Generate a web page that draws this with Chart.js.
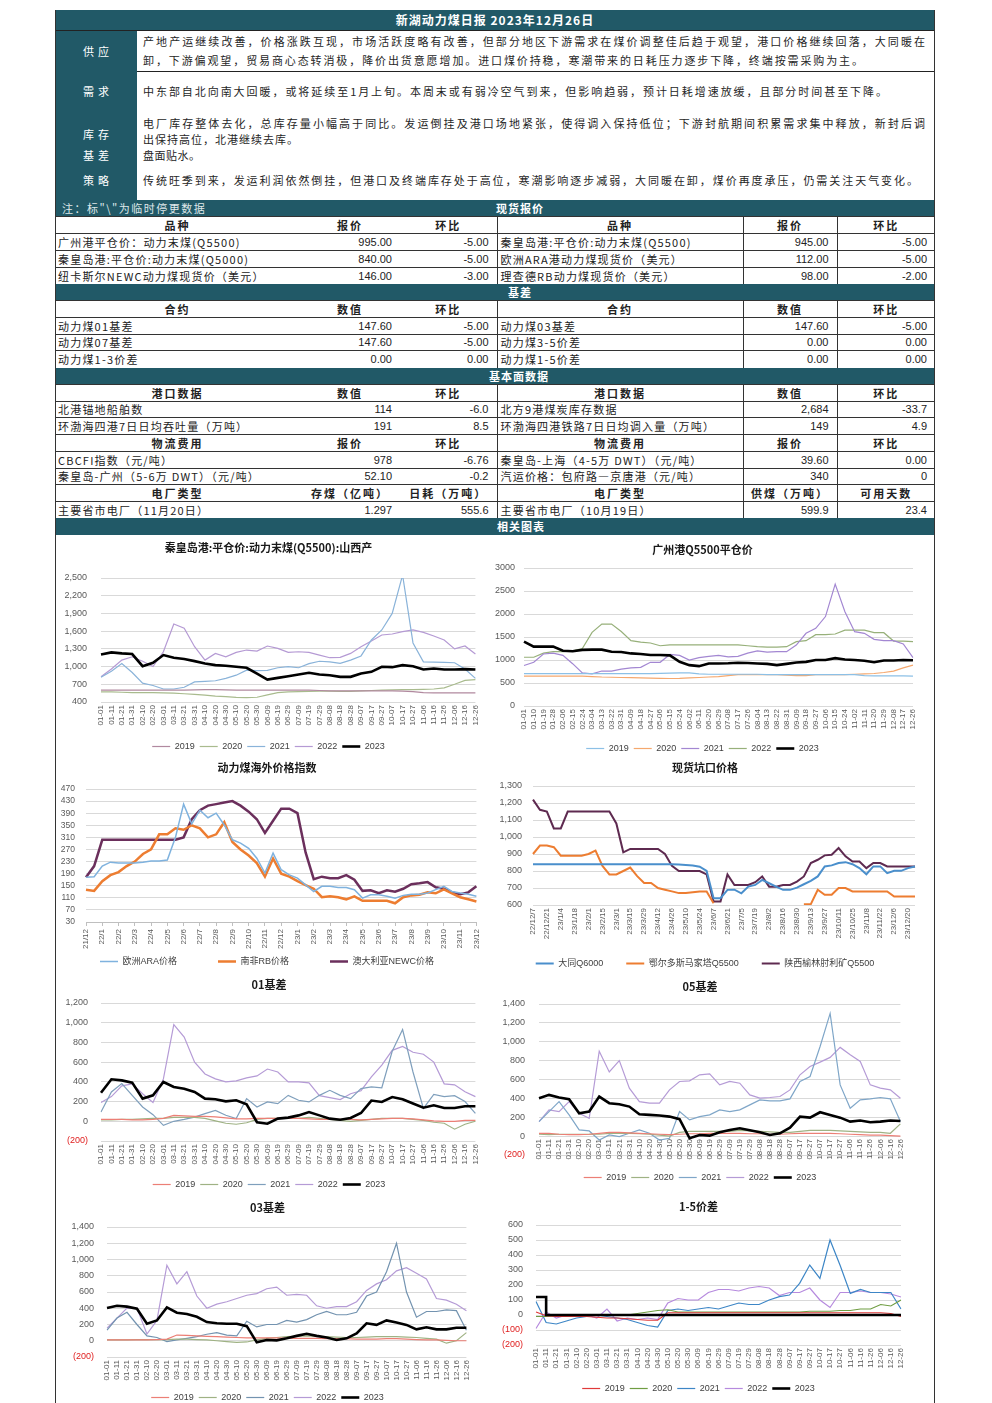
<!DOCTYPE html>
<html lang="zh-CN">
<head>
<meta charset="utf-8">
<title>新湖动力煤日报 2023年12月26日</title>
<script src="https://cdn.jsdelivr.net/npm/chart.js@4.4.1/dist/chart.umd.min.js"></script>
<style>
html,body{margin:0;padding:0;background:#fff;overflow:hidden;}
body{position:relative;width:992px;height:1403px;font-family:"Noto Sans CJK SC","Liberation Sans",sans-serif;color:#262626;}
.a{position:absolute;}
.teal{background:#215967;color:#fff;}
#ttl{left:55px;top:10px;width:880px;height:20px;line-height:20px;text-align:center;font-weight:bold;font-size:12px;letter-spacing:1px;}
.hl{height:1px;background:#222;}
.vline{width:1px;background:#333;top:10px;height:1393px;}
#lab{left:55px;top:31px;width:82px;height:169px;}
.lb{left:55px;width:82px;text-align:center;font-size:11px;letter-spacing:4px;padding-left:4px;box-sizing:border-box;color:#fff;line-height:14px;margin-top:-7px;}
.tx{left:143px;font-size:11px;line-height:14px;margin-top:-7px;white-space:nowrap;color:#262626;}
.tj{text-align:justify;text-align-last:justify;text-justify:inter-character;}
#tbl{position:absolute;left:55px;top:200px;width:880px;border-collapse:collapse;table-layout:fixed;font-size:11px;color:#222;}
#tbl td{height:16.75px;padding:0 3px;box-sizing:border-box;border-top:1px solid #333;white-space:nowrap;overflow:hidden;line-height:14px;}
#tbl tr.bar td{background:#215967;color:#fff;font-weight:bold;border-top:0;position:relative;}
#tbl tr.hd td{font-weight:bold;text-align:center;letter-spacing:2px;}
#tbl td.n{text-align:right;padding-right:8px;font-family:"Liberation Sans","Noto Sans CJK SC",sans-serif;}
#tbl td.nm{letter-spacing:1.2px;}
#tbl td.v{border-left:1px solid #333;}
.bn,.bt{position:absolute;top:0;line-height:16px;white-space:nowrap;}
.bn{font-weight:normal;color:#dfe8ea;letter-spacing:1.5px;}
.bt{letter-spacing:1px;}
</style>
</head>
<body>
<div class="a teal" id="ttl">新湖动力煤日报 2023年12月26日</div>
<div class="a hl" style="left:55px;top:30px;width:880px;"></div>
<div class="a teal" id="lab"></div>
<div class="a lb" style="top:51px">供应</div>
<div class="a lb" style="top:91px">需求</div>
<div class="a lb" style="top:134px">库存</div>
<div class="a lb" style="top:155px">基差</div>
<div class="a lb" style="top:180px">策略</div>
<div class="a hl" style="left:137px;top:71px;width:798px;"></div>

<div class="a tx tj" style="top:41px;width:782px;">产地产运继续改善，价格涨跌互现，市场活跃度略有改善，但部分地区下游需求在煤价调整佳后趋于观望，港口价格继续回落，大同暖在</div>
<div class="a tx tj" style="top:60px;width:720px;">卸，下游偏观望，贸易商心态转消极，降价出货意愿增加。进口煤价持稳，寒潮带来的日耗压力逐步下降，终端按需采购为主。</div>
<div class="a tx tj" style="top:91px;width:744px;">中东部自北向南大回暖，或将延续至1月上旬。本周末或有弱冷空气到来，但影响趋弱，预计日耗增速放缓，且部分时间甚至下降。</div>
<div class="a tx tj" style="top:123px;width:782px;">电厂库存整体去化，总库存量小幅高于同比。发运倒挂及港口场地紧张，使得调入保持低位；下游封航期间积累需求集中释放，新封后调</div>
<div class="a tx" style="top:139px;letter-spacing:1px;">出保持高位，北港继续去库。</div>
<div class="a tx" style="top:155px;letter-spacing:0.5px;">盘面贴水。</div>
<div class="a tx tj" style="top:180px;width:775px;">传统旺季到来，发运利润依然倒挂，但港口及终端库存处于高位，寒潮影响逐步减弱，大同暖在卸，煤价再度承压，仍需关注天气变化。</div>

<table id="tbl">
<colgroup><col style="width:245px"><col style="width:100px"><col style="width:97px"><col style="width:246px"><col style="width:94px"><col style="width:98px"></colgroup>
<tr class="bar"><td colspan="6"><span class="bn" style="left:7px">注：标"\"为临时停更数据</span><span class="bt" style="left:441px">现货报价</span></td></tr>
<tr class="hd"><td>品种</td><td>报价</td><td>环比</td><td class="v">品种</td><td class="v">报价</td><td class="v">环比</td></tr>
<tr><td class="nm">广州港平仓价：动力末煤(Q5500)</td><td class="n">995.00</td><td class="n">-5.00</td><td class="nm v">秦皇岛港:平仓价:动力末煤(Q5500)</td><td class="n v">945.00</td><td class="n v">-5.00</td></tr>
<tr><td class="nm">秦皇岛港:平仓价:动力末煤(Q5000)</td><td class="n">840.00</td><td class="n">-5.00</td><td class="nm v">欧洲ARA港动力煤现货价（美元）</td><td class="n v">112.00</td><td class="n v">-5.00</td></tr>
<tr><td class="nm">纽卡斯尔NEWC动力煤现货价（美元）</td><td class="n">146.00</td><td class="n">-3.00</td><td class="nm v">理查德RB动力煤现货价（美元）</td><td class="n v">98.00</td><td class="n v">-2.00</td></tr>
<tr class="bar"><td colspan="6"><span class="bt" style="left:453px">基差</span></td></tr>
<tr class="hd"><td>合约</td><td>数值</td><td>环比</td><td class="v">合约</td><td class="v">数值</td><td class="v">环比</td></tr>
<tr><td class="nm">动力煤01基差</td><td class="n">147.60</td><td class="n">-5.00</td><td class="nm v">动力煤03基差</td><td class="n v">147.60</td><td class="n v">-5.00</td></tr>
<tr><td class="nm">动力煤07基差</td><td class="n">147.60</td><td class="n">-5.00</td><td class="nm v">动力煤3-5价差</td><td class="n v">0.00</td><td class="n v">0.00</td></tr>
<tr><td class="nm">动力煤1-3价差</td><td class="n">0.00</td><td class="n">0.00</td><td class="nm v">动力煤1-5价差</td><td class="n v">0.00</td><td class="n v">0.00</td></tr>
<tr class="bar"><td colspan="6"><span class="bt" style="left:434px">基本面数据</span></td></tr>
<tr class="hd"><td>港口数据</td><td>数值</td><td>环比</td><td class="v">港口数据</td><td class="v">数值</td><td class="v">环比</td></tr>
<tr><td class="nm">北港锚地船舶数</td><td class="n">114</td><td class="n">-6.0</td><td class="nm v">北方9港煤炭库存数据</td><td class="n v">2,684</td><td class="n v">-33.7</td></tr>
<tr><td class="nm">环渤海四港7日日均吞吐量（万吨）</td><td class="n">191</td><td class="n">8.5</td><td class="nm v">环渤海四港铁路7日日均调入量（万吨）</td><td class="n v">149</td><td class="n v">4.9</td></tr>
<tr class="hd"><td>物流费用</td><td>报价</td><td>环比</td><td class="v">物流费用</td><td class="v">报价</td><td class="v">环比</td></tr>
<tr><td class="nm">CBCFI指数（元/吨）</td><td class="n">978</td><td class="n">-6.76</td><td class="nm v">秦皇岛-上海（4-5万 DWT）（元/吨）</td><td class="n v">39.60</td><td class="n v">0.00</td></tr>
<tr><td class="nm">秦皇岛-广州（5-6万 DWT）（元/吨）</td><td class="n">52.10</td><td class="n">-0.2</td><td class="nm v">汽运价格：包府路—京唐港（元/吨）</td><td class="n v">340</td><td class="n v">0</td></tr>
<tr class="hd"><td>电厂类型</td><td>存煤（亿吨）</td><td>日耗（万吨）</td><td class="v">电厂类型</td><td class="v">供煤（万吨）</td><td class="v">可用天数</td></tr>
<tr><td class="nm">主要省市电厂（11月20日）</td><td class="n">1.297</td><td class="n">555.6</td><td class="nm v">主要省市电厂（10月19日）</td><td class="n v">599.9</td><td class="n v">23.4</td></tr>
<tr class="bar"><td colspan="6"><span class="bt" style="left:442px">相关图表</span></td></tr>
</table>

<div class="a vline" style="left:55px;"></div>
<div class="a vline" style="left:934px;"></div>

<script>
// ---------------- tick labels ----------------
const dayLabels10 = ['01-01','01-11','01-21','01-31','02-10','02-20','03-01','03-11','03-21','03-31','04-10','04-20','04-30','05-10','05-20','05-30','06-09','06-19','06-29','07-09','07-19','07-29','08-08','08-18','08-28','09-07','09-17','09-27','10-07','10-17','10-27','11-06','11-16','11-26','12-06','12-16','12-26'];
const dayLabels9 = ['01-01','01-10','01-19','01-28','02-06','02-15','02-24','03-04','03-13','03-22','03-31','04-09','04-18','04-27','05-06','05-15','05-24','06-02','06-11','06-20','06-29','07-08','07-17','07-26','08-04','08-13','08-22','08-31','09-09','09-18','09-27','10-06','10-15','10-24','11-02','11-11','11-20','11-29','12-08','12-17','12-26'];
const monthHalfLabels = ['21/12','','22/1','','22/2','','22/3','','22/4','','22/5','','22/6','','22/7','','22/8','','22/9','','22/10','','22/11','','22/12','','23/1','','23/2','','23/3','','23/4','','23/5','','23/6','','23/7','','23/8','','23/9','','23/10','','23/11','','23/12'];
const weekLabels = ['22/12/7','22/12/14','22/12/21','22/12/28','23/1/4','23/1/11','23/1/18','23/1/25','23/2/1','23/2/8','23/2/15','23/2/22','23/3/1','23/3/8','23/3/15','23/3/22','23/3/29','23/4/5','23/4/12','23/4/19','23/4/26','23/5/3','23/5/10','23/5/17','23/5/24','23/5/31','23/6/7','23/6/14','23/6/21','23/6/28','23/7/5','23/7/12','23/7/19','23/7/26','23/8/2','23/8/9','23/8/16','23/8/23','23/8/30','23/9/6','23/9/13','23/9/20','23/9/27','23/10/4','23/10/11','23/10/18','23/10/25','23/11/1','23/11/8','23/11/15','23/11/22','23/11/29','23/12/6','23/12/13','23/12/20','23/12/27'];
const yearNames = ['2019','2020','2021','2022','2023'];

// ---------------- chart 1: 秦皇岛港 Q5500 ----------------
const qhd2019 = [600,600,600,600,600,600,600,600,600,605,610,610,605,600,600,600,600,600,600,600,600,595,590,590,590,590,590,590,590,585,575,560,555,555,555,555,555];
const qhd2020 = [570,570,565,560,560,560,555,550,540,530,515,500,490,480,475,480,520,560,570,575,580,585,585,580,580,590,595,600,605,610,610,615,620,640,700,765,780];
const qhd2021 = [820,920,1050,900,720,680,620,620,650,740,750,760,800,854,940,930,935,980,1000,980,1050,1090,1080,1053,1110,1180,1450,1620,1900,2550,1400,1080,1075,1070,1065,960,800];
const qhd2022 = [826,960,1110,1166,1090,1000,1250,1720,1650,1337,1110,1223,1166,1240,1280,1263,1348,1308,1240,1251,1240,1195,1150,1155,1223,1337,1433,1535,1552,1592,1620,1580,1518,1450,1300,1348,1212];
const qhd2023 = [1206,1240,1223,1212,1007,1064,1195,1150,1127,1092,1053,1024,1013,996,979,880,780,809,837,865,894,865,854,826,826,882,911,996,990,1024,1007,950,968,950,950,956,950];

// ---------------- chart 2: 广州港 Q5500 ----------------
const gz2019 = [705,705,705,705,705,705,705,705,705,705,705,705,705,705,710,715,720,720,700,690,690,690,690,690,690,680,680,680,680,680,680,680,680,680,680,660,655,655,655,655,650];
const gz2020 = [650,650,650,650,650,650,650,640,630,625,620,615,610,605,600,598,600,610,620,630,640,660,680,680,680,680,680,670,660,660,680,680,680,680,690,700,706,728,757,830,888];
const gz2021 = [880,950,1130,1150,1100,920,720,700,760,760,800,830,840,950,950,1120,1100,1000,1050,1080,1100,1070,1080,1150,1200,1170,1180,1180,1325,1580,1690,1944,2650,2050,1616,1580,1450,1420,1420,1350,1050];
const gz2022 = [1060,1060,1150,1180,1180,1200,1250,1600,1780,1780,1620,1420,1390,1370,1310,1330,1330,1330,1330,1330,1330,1330,1330,1310,1290,1280,1280,1290,1400,1420,1550,1550,1565,1650,1650,1650,1594,1594,1412,1412,1400];
const gz2023 = [1400,1290,1290,1290,1200,1190,1220,1225,1225,1180,1175,1143,1130,1110,1110,1100,960,888,866,925,925,930,940,935,925,915,888,915,945,960,1000,1000,1040,1010,1000,985,950,990,990,1000,995];

// ---------------- chart 3: 海外价格指数 ----------------
const araPrice = [178,180,215,228,225,225,225,228,232,232,235,310,420,355,400,375,390,351,302,291,274,241,192,258,203,186,175,153,131,148,148,144,144,137,109,120,120,115,109,118,122,122,126,137,148,131,126,122,115];
const rbPrice = [137,133,165,185,195,215,230,255,270,320,320,340,335,350,340,310,320,360,295,270,250,225,180,240,190,180,165,152,140,112,115,112,105,115,100,100,100,100,92,112,118,120,128,125,138,125,112,105,98];
const newcPrice = [178,215,302,302,302,302,302,302,302,302,302,302,310,370,400,415,420,425,430,415,395,370,325,365,405,405,390,260,172,180,175,175,185,170,133,135,125,135,130,140,155,158,162,145,140,128,122,128,148];

// ---------------- chart 4: 现货坑口价格 ----------------
const datongQ6000 = [840,840,840,840,840,840,840,840,840,840,840,840,840,840,840,840,840,840,840,840,840,838,835,832,825,800,640,640,689,690,669,708,718,748,728,708,689,689,702,722,742,768,827,833,847,852,840,817,781,827,827,787,801,801,817,827];
const ordosQ5500 = [900,950,950,940,890,890,890,890,900,920,830,780,780,800,820,770,730,730,700,690,680,670,670,675,680,680,610,null,null,null,null,null,null,null,null,null,null,null,null,605,605,690,660,660,700,700,680,680,680,680,680,680,650,650,650,650];
const yulinQ5500 = [1220,1160,1150,1050,1050,1150,1150,1150,1150,1150,1150,1150,1080,910,930,930,930,930,930,900,830,800,800,800,800,780,620,620,780,718,718,718,734,768,708,708,718,718,738,768,847,866,892,896,935,886,856,856,817,847,847,827,827,827,827,827];

// ---------------- chart 5: 01基差 ----------------
const b01_2019 = [20,20,20,15,15,20,30,60,55,50,50,45,35,25,25,30,30,30,30,30,25,20,20,20,20,15,20,25,30,30,25,15,5,0,0,10,10];
const b01_2020 = [15,15,20,20,25,30,30,40,40,40,30,5,-20,-30,-15,20,30,30,30,30,40,30,20,10,0,10,20,30,30,30,20,10,-10,-20,-80,-30,0];
const b01_2021 = [94,297,382,263,145,67,-41,0,20,43,78,111,61,27,230,145,196,179,263,213,196,263,314,263,230,331,350,340,710,930,500,130,273,250,260,200,80];
const b01_2022 = [190,250,360,380,280,190,430,980,855,600,480,430,400,410,440,460,530,500,400,400,390,260,240,220,280,310,450,570,720,760,700,680,600,380,370,300,250];
const b01_2023 = [290,426,415,392,230,263,399,348,331,297,230,223,202,213,172,-10,-25,27,37,60,94,60,27,15,33,84,210,196,246,223,180,138,162,135,135,152,152];

// ---------------- chart 6: 05基差 ----------------
const b05_2019 = [30,30,20,15,15,20,30,40,40,35,30,25,20,15,20,25,25,30,30,30,30,25,25,20,20,25,30,30,30,30,25,20,15,10,10,5,0];
const b05_2020 = [20,15,20,20,20,20,20,30,30,30,25,20,10,0,40,50,50,50,50,50,60,55,50,45,40,40,50,60,60,60,55,50,45,40,40,30,130];
const b05_2021 = [154,260,366,225,66,55,-41,12,-5,30,65,30,-41,-23,260,172,207,225,278,260,278,331,384,373,373,395,579,632,950,1300,543,296,384,395,409,395,154];
const b05_2022 = [154,278,260,366,242,189,900,680,800,508,366,349,349,490,579,586,650,660,543,579,561,437,402,409,420,490,650,738,784,834,940,862,791,543,508,490,402];
const b05_2023 = [402,437,409,391,242,260,419,349,338,313,232,225,218,207,179,-23,12,5,40,65,83,62,40,12,30,90,207,196,253,225,196,154,165,147,154,165,161];

// ---------------- chart 7: 03基差 ----------------
const b03_2019 = [10,10,10,10,10,15,20,70,65,60,55,50,45,40,35,35,35,35,30,30,30,30,25,25,25,20,20,20,25,25,20,15,10,10,5,0,0];
const b03_2020 = [10,10,10,15,15,15,15,20,20,15,10,0,-10,-20,-15,10,30,40,50,55,60,55,50,45,40,40,45,50,50,50,45,40,30,20,-30,0,100];
const b03_2021 = [130,280,350,200,60,40,-10,10,30,50,80,100,70,60,240,170,200,200,250,230,260,320,360,320,320,350,550,600,850,1200,600,290,360,360,380,370,130];
const b03_2022 = [156,279,402,402,82,250,930,700,850,550,400,450,480,520,560,580,640,660,560,570,560,430,400,420,420,480,620,700,750,860,900,830,760,520,500,450,370];
const b03_2023 = [402,431,420,395,210,250,410,345,330,295,230,215,210,210,180,-20,10,5,30,60,85,60,40,10,30,90,215,195,250,225,195,140,165,140,140,160,160];

// ---------------- chart 8: 1-5价差 ----------------
const s15_2019 = [20,-5,-10,-10,-10,-10,-15,-20,-20,-25,-30,-35,-35,15,15,15,15,15,15,15,15,15,15,15,15,15,15,15,15,15,15,15,15,15,15,10,-10];
const s15_2020 = [-10,-10,-5,0,0,0,0,0,0,0,10,20,30,35,20,20,20,20,20,20,20,20,20,20,20,20,20,25,25,25,30,30,40,40,70,60,100];
const s15_2021 = [90,-50,-60,-40,-20,-10,0,-10,-20,-30,-50,-70,-80,30,40,30,40,50,40,60,80,70,70,100,122,133,211,333,244,500,330,144,170,150,150,150,40];
const s15_2022 = [-90,20,-20,0,-10,0,-20,40,-40,-20,-30,-20,-30,80,110,100,100,150,170,170,160,180,190,180,130,150,150,180,100,50,150,150,160,150,150,140,120];
const s15_2023 = [120,0,0,0,0,0,0,0,0,0,0,0,0,0,0,0,0,0,0,0,0,0,0,0,0,0,0,0,0,0,0,0,0,0,0,0,0];

// ---------------- styling / layout helpers ----------------
Chart.defaults.font.family = "'Liberation Sans','Noto Sans CJK SC',sans-serif";
Chart.defaults.color = '#595959';

function makeChart(g, title, labels, series, yOpt, extra) {
  extra = extra || {};
  // canvas spans so that title/legend are centred on g.cx and the y-axis box is g.yw wide
  const cl = g.pl - g.yw;
  let cr = 2 * g.cx - cl;
  if (cr - g.pr < 6) cr = g.pr + 6;
  const W = Math.round(cr - cl);
  const H = Math.round(g.lc + 14.5 - g.t);
  const cv = document.createElement('canvas');
  cv.width = W; cv.height = H;
  cv.style.cssText = 'position:absolute;left:' + cl + 'px;top:' + g.t + 'px;width:' + W + 'px;height:' + H + 'px;';
  document.body.appendChild(cv);
  const lp = 5;
  const legendTop = H - (9 + lp + 10);
  const xH = legendTop - (g.pb - g.t);
  const padR = (cl + W) - g.pr;
  const yW = g.yw;
  const tTop = g.tc - g.t - 6.6;
  const tBot = (g.pt - g.t) - tTop - 13.2;
  const fmt = yOpt.comma ? (v => Math.abs(v).toLocaleString('en-US')) : (v => String(Math.abs(v)));

  const xScale = {
    type: 'category',
    grid: {display: false, drawTicks: false},
    border: {display: false},
    ticks: {
      autoSkip: false, minRotation: 90, maxRotation: 90, padding: 3, color: '#595959', font: {size: 8},
      callback: extra.xCb || function (v) { return this.getLabelForValue(v); }
    }
  };
  if (extra.xTickMarks) {
    xScale.grid = {display: true, drawOnChartArea: false, drawTicks: true, tickLength: 4,
      color: c => (c.index % 2 ? 'rgba(0,0,0,0)' : '#bfbfbf')};
    xScale.border = {display: true, color: '#bfbfbf'};
  }
  const scales = {x: xScale};
  if (extra.xAtZero) {
    xScale.position = {y: 0};
    scales.xpad = {type: 'linear', position: 'bottom', display: true,
      grid: {display: false, drawTicks: false}, border: {display: false}, ticks: {display: false},
      afterFit: s => { s.height = xH; }};
  } else {
    xScale.afterFit = s => { s.height = xH; };
  }
  scales.y = {
    min: yOpt.min, max: yOpt.max,
    grid: {color: '#d9d9d9', drawTicks: false, lineWidth: 1},
    border: {display: false},
    ticks: {
      autoSkip: false,
      stepSize: yOpt.step, padding: yOpt.pad, font: {size: yOpt.fs || 9},
      color: c => (c.tick && c.tick.value < 0 ? '#e02020' : '#595959'),
      callback: v => (v < 0 ? '(' + fmt(v) + ')' : fmt(v))
    },
    afterFit: s => { s.width = yW; }
  };

  const datasets = series.map(s => ({
    label: s.label, data: s.data, borderColor: s.color, backgroundColor: s.color,
    borderWidth: s.width, pointRadius: 0, pointHoverRadius: 0, tension: 0, fill: false,
    order: s.top ? 0 : 1, xAxisID: 'x', yAxisID: 'y', stepped: s.stepped || false, spanGaps: false
  }));

  const gap = extra.legendGap || '';
  new Chart(cv, {
    type: 'line',
    data: {labels: labels, datasets: datasets},
    options: {
      responsive: false, animation: false, devicePixelRatio: 1,
      layout: {padding: {left: 0, right: padR, top: 0, bottom: 0}},
      plugins: {
        title: {display: true, text: title, color: '#1a1a1a',
          font: {family: "'Noto Sans CJK SC',sans-serif", size: 11, weight: 'bold', lineHeight: 1.2},
          padding: {top: tTop, bottom: tBot}},
        legend: {display: true, position: 'bottom',
          labels: {usePointStyle: true, pointStyle: 'line', pointStyleWidth: 18, font: {size: 9}, color: '#404040', padding: lp,
            sort: (a, b) => a.datasetIndex - b.datasetIndex,
            generateLabels: ch => {
              const items = Chart.defaults.plugins.legend.labels.generateLabels(ch);
              items.sort((a, b) => a.datasetIndex - b.datasetIndex);
              items.forEach((it, i) => { if (gap && i < items.length - 1) it.text += gap; });
              return items;
            }}},
        tooltip: {enabled: false}
      },
      scales: scales
    }
  });
}

function seasonal(dataList, colors, widths) {
  return dataList.map((d, i) => ({label: yearNames[i], data: d, color: colors[i], width: widths[i], top: i === 4}));
}

// geometry (plot edges, y-axis box width, title/legend centres)
const G1 = {t:536, pl:101, yw:42, pt:578, pr:478, pb:702, tc:548, lc:746, cx:273.5};
const G2 = {t:536, pl:524, yw:32, pt:568, pr:913, pb:706, tc:550, lc:748, cx:709};
const G3 = {t:758, pl:86, yw:30, pt:789, pr:478, pb:922, tc:768, lc:961, cx:272.5};
const G4 = {t:758, pl:533, yw:38, pt:786, pr:915, pb:905, tc:768, lc:963, cx:713};
const G5 = {t:975, pl:101, yw:40, pt:1003, pr:477, pb:1141, tc:985, lc:1184, cx:274.5};
const G6 = {t:975, pl:539, yw:42, pt:1004, pr:903, pb:1155, tc:987, lc:1177, cx:705};
const G7 = {t:1194, pl:107, yw:40, pt:1227, pr:468, pb:1357, tc:1208, lc:1397, cx:273};
const G8 = {t:1194, pl:536, yw:40, pt:1225, pr:901, pb:1345, tc:1207, lc:1388, cx:706};

const thin = [1.2, 1.2, 1.2, 1.2, 2.6];

makeChart(G1, '秦皇岛港:平仓价:动力末煤(Q5500):山西产', dayLabels10,
  seasonal([qhd2019, qhd2020, qhd2021, qhd2022, qhd2023], ['#b1899f', '#a9bb8e', '#8ab3d9', '#b59ad4', '#000000'], thin),
  {min: 400, max: 2500, step: 300, pad: 14, comma: true});

makeChart(G2, '广州港Q5500平仓价', dayLabels9,
  seasonal([gz2019, gz2020, gz2021, gz2022, gz2023], ['#8cc0e6', '#f5a86e', '#a387d2', '#97b07a', '#000000'], thin),
  {min: 0, max: 3000, step: 500, pad: 9, comma: false});

makeChart(G3, '动力煤海外价格指数', monthHalfLabels, [
  {label: '欧洲ARA价格', data: araPrice, color: '#7fb2de', width: 1.5},
  {label: '南非RB价格', data: rbPrice, color: '#ed7d31', width: 2.5},
  {label: '澳大利亚NEWC价格', data: newcPrice, color: '#6b2f5c', width: 2.5}
], {min: 30, max: 470, step: 40, pad: 11, comma: false, fs: 8.5}, {xTickMarks: true, legendGap: '\u3000\u3000\u3000\u3000'});

makeChart(G4, '现货坑口价格', weekLabels, [
  {label: '大同Q6000', data: datongQ6000, color: '#4a8fcc', width: 2},
  {label: '鄂尔多斯马家塔Q5500', data: ordosQ5500, color: '#ed7d31', width: 2},
  {label: '陕西榆林肘利矿Q5500', data: yulinQ5500, color: '#5e2a50', width: 2}
], {min: 600, max: 1300, step: 100, pad: 11, comma: true},
  {xCb: function (v, i) { return i % 2 === 0 ? this.getLabelForValue(v) : ''; }, legendGap: '\u3000\u3000'});

makeChart(G5, '01基差', dayLabels10,
  seasonal([b01_2019, b01_2020, b01_2021, b01_2022, b01_2023], ['#ec7f76', '#9fb284', '#7f9fbc', '#b59bd6', '#000000'], thin),
  {min: -200, max: 1200, step: 200, pad: 13, comma: true});

makeChart(G6, '05基差', dayLabels10,
  seasonal([b05_2019, b05_2020, b05_2021, b05_2022, b05_2023], ['#ec7f76', '#9fb284', '#7fa6c8', '#b59bd6', '#000000'], thin),
  {min: -200, max: 1400, step: 200, pad: 14, comma: true}, {xAtZero: true});

makeChart(G7, '03基差', dayLabels10,
  seasonal([b03_2019, b03_2020, b03_2021, b03_2022, b03_2023], ['#ec7f76', '#9fb284', '#7393b0', '#b59bd6', '#000000'], thin),
  {min: -200, max: 1400, step: 200, pad: 13, comma: true});

const s8 = seasonal([s15_2019, s15_2020, s15_2021, s15_2022, s15_2023], ['#e03a3a', '#6f9d42', '#3d86c6', '#b68ade', '#000000'], thin);
s8[4].stepped = true;
makeChart(G8, '1-5价差', dayLabels10, s8,
  {min: -200, max: 600, step: 100, pad: 13, comma: false});
</script>
</body>
</html>
